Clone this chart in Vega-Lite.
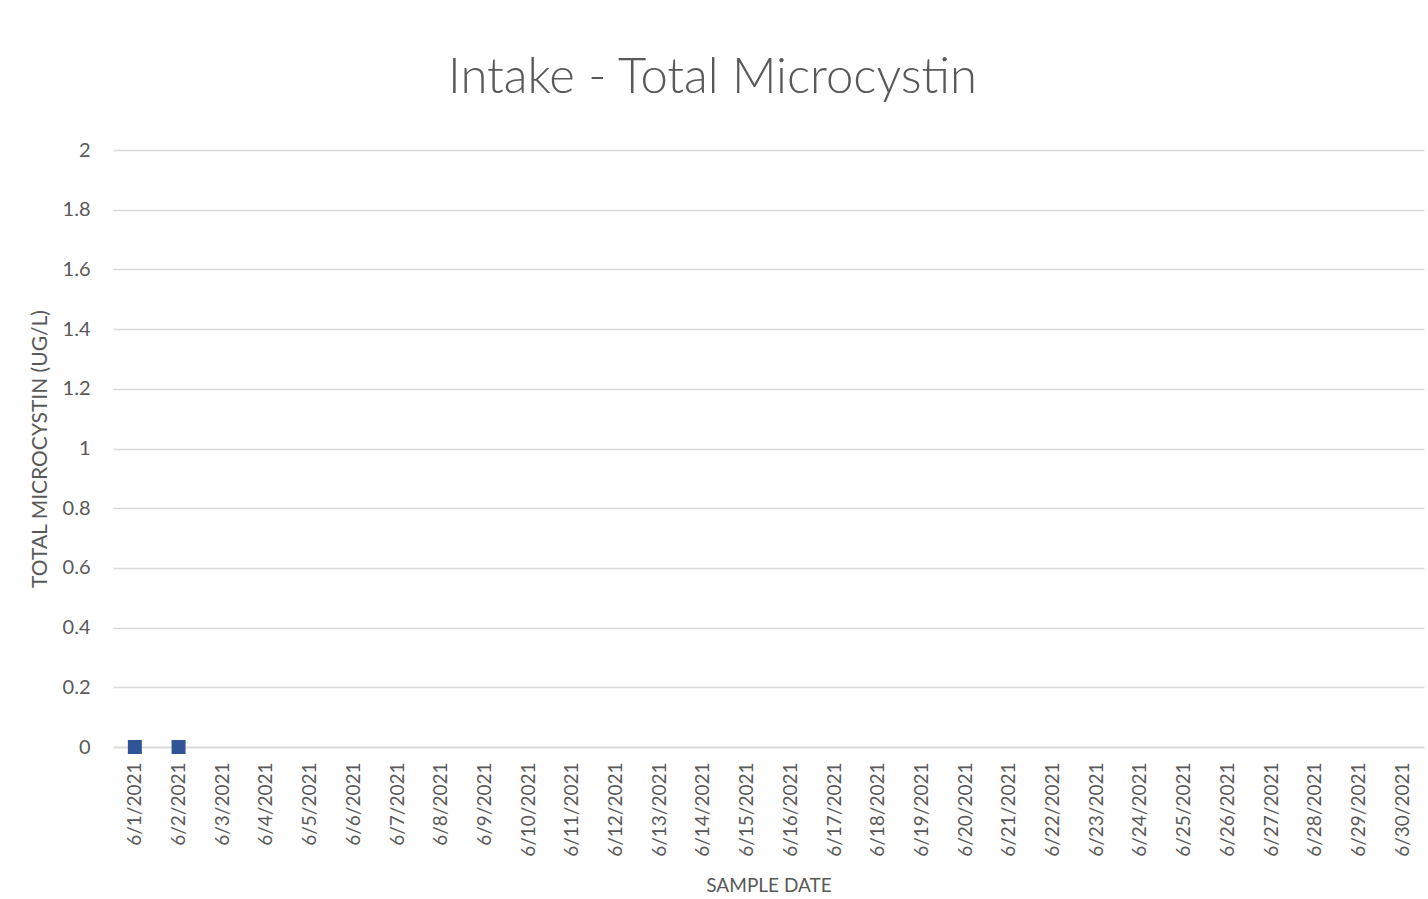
{
  "$schema": "https://vega.github.io/schema/vega-lite/v6.json",
  "width": 1311,
  "height": 597,
  "autosize": {"type": "none"},
  "padding": {"left": 113, "top": 150, "right": 4, "bottom": 152},
  "background": "white",
  "title": {
    "text": "Intake - Total Microcystin",
    "anchor": "middle",
    "frame": "group",
    "dx": -56,
    "offset": 37,
    "font": "Lato",
    "fontWeight": 300,
    "fontSize": 49,
    "color": "#595959"
  },
  "data": {
    "values": [
      {"date": "6/1/2021", "value": 0},
      {"date": "6/2/2021", "value": 0}
    ]
  },
  "mark": {"type": "point", "shape": "square", "filled": true, "size": 196, "color": "#2F5597", "opacity": 1},
  "encoding": {
    "x": {
      "field": "date",
      "type": "ordinal",
      "sort": null,
      "scale": {
        "type": "point",
        "padding": 0.5,
        "domain": ["6/1/2021","6/2/2021","6/3/2021","6/4/2021","6/5/2021","6/6/2021","6/7/2021","6/8/2021","6/9/2021","6/10/2021","6/11/2021","6/12/2021","6/13/2021","6/14/2021","6/15/2021","6/16/2021","6/17/2021","6/18/2021","6/19/2021","6/20/2021","6/21/2021","6/22/2021","6/23/2021","6/24/2021","6/25/2021","6/26/2021","6/27/2021","6/28/2021","6/29/2021","6/30/2021"]
      },
      "axis": {
        "title": "SAMPLE DATE",
        "titleFont": "Lato",
        "titleFontWeight": "normal",
        "titleFontSize": 19,
        "titleColor": "#595959",
        "titlePadding": 20,
        "labelAngle": -90,
        "labelFont": "Lato",
        "labelFontSize": 19,
        "labelColor": "#595959",
        "labelPadding": 15,
        "ticks": false,
        "domain": true,
        "domainColor": "#D9D9D9",
        "domainWidth": 1.5,
        "grid": false
      }
    },
    "y": {
      "field": "value",
      "type": "quantitative",
      "scale": {"domain": [0, 2]},
      "axis": {
        "title": "TOTAL MICROCYSTIN (UG/L)",
        "titleFont": "Lato",
        "titleFontWeight": "normal",
        "titleFontSize": 21,
        "titleColor": "#595959",
        "titlePadding": 12,
        "values": [0, 0.2, 0.4, 0.6, 0.8, 1, 1.2, 1.4, 1.6, 1.8, 2],
        "format": "~g",
        "labelFont": "Lato",
        "labelFontSize": 20,
        "labelColor": "#595959",
        "labelPadding": 23,
        "ticks": false,
        "domain": false,
        "grid": true,
        "gridColor": "#D9D9D9",
        "gridWidth": 1.5
      }
    }
  },
  "config": {"view": {"stroke": null}}
}
